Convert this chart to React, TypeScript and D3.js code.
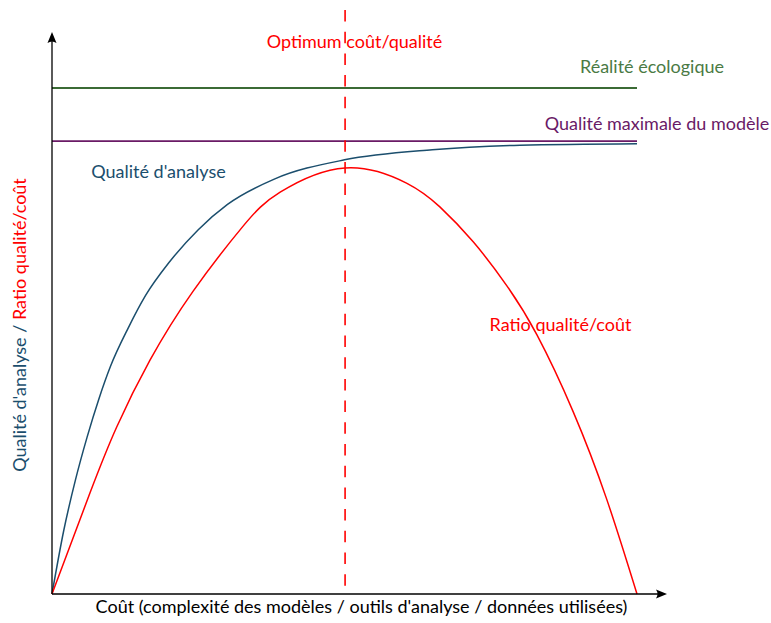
import React from "react";
import * as d3 from "d3";

// Curve readings (x: cost 0–100, y: quality 0–100)
const qualityX = [0, 2, 4, 6, 8, 10, 13, 16, 20, 25, 30, 38, 50, 65, 80, 100];
const qualityY = [0, 12.5, 22.5, 31, 38.5, 45, 52.5, 59, 65.5, 72, 77, 82, 85.8, 87.8, 88.7, 89.0];

const ratioX = [0, 6.5, 11.06, 16.75, 24.1, 32.6, 39.0, 50.1, 60.6, 66.3, 72.0, 77.7, 82.9, 89.1, 94.8, 100];
const ratioY = [0, 20.0, 33.0, 46.2, 59.8, 72.6, 79.4, 84.2, 81.2, 76.5, 69.6, 61.0, 51.2, 36.0, 18.8, 0];

const ecologicalReality = 100;
const maxModelQuality = 89.5;
const optimumX = 50.1;

const labels = {
  optimum: "Optimum coût/qualité",
  reality: "Réalité écologique",
  maxModel: "Qualité maximale du modèle",
  quality: "Qualité d'analyse",
  ratio: "Ratio qualité/coût",
  xAxis: "Coût (complexité des modèles / outils d'analyse / données utilisées)",
  yAxisA: "Qualité d'analyse / ",
  yAxisB: "Ratio qualité/coût",
};

const W = 771;
const H = 623;
const RED = "#ff0000";
const BLUE = "#1b4e6d";
const GREEN = "#3b6b35";
const GREEN_TEXT = "#4a7a44";
const PURPLE = "#6a1a66";
const FONT = "Lato, 'Open Sans', sans-serif";
const FS = 18;

export default function App() {
  const x = d3.scaleLinear().domain([0, 100]).range([52, 637]);
  const y = d3.scaleLinear().domain([0, 100]).range([594, 88]);

  const qualityLine = d3
    .line<[number, number]>()
    .x((d) => x(d[0]))
    .y((d) => y(d[1]))
    .curve(d3.curveMonotoneX);
  const ratioLine = d3
    .line<[number, number]>()
    .x((d) => x(d[0]))
    .y((d) => y(d[1]))
    .curve(d3.curveNatural);

  const qualityPts = qualityX.map((v, i) => [v, qualityY[i]] as [number, number]);
  const ratioPts = ratioX.map((v, i) => [v, ratioY[i]] as [number, number]);

  const x0 = x(0);
  const y0 = y(0);
  const xEnd = 667;
  const yEnd = 32;

  return (
    <svg
      width={W}
      height={H}
      style={{ position: "absolute", left: 0, top: 0, display: "block", background: "#fff" }}
      fontFamily={FONT}
    >
      <line x1={x(0)} x2={x(100)} y1={y(ecologicalReality)} y2={y(ecologicalReality)} stroke={GREEN} strokeWidth={1.8} />
      <line x1={x(0)} x2={x(100)} y1={y(maxModelQuality)} y2={y(maxModelQuality)} stroke={PURPLE} strokeWidth={1.8} />

      <path d={qualityLine(qualityPts) || ""} fill="none" stroke={BLUE} strokeWidth={1.5} />
      <path d={ratioLine(ratioPts) || ""} fill="none" stroke={RED} strokeWidth={1.5} />

      <line
        x1={x(optimumX)}
        x2={x(optimumX)}
        y1={10}
        y2={y0}
        stroke={RED}
        strokeWidth={1.6}
        strokeDasharray="11.5 10.2"
      />

      <line x1={x0} x2={xEnd - 4} y1={y0} y2={y0} stroke="#000" strokeWidth={1.3} />
      <line x1={x0} x2={x0} y1={y0} y2={yEnd + 4} stroke="#000" strokeWidth={1.3} />
      <path
        d={`M${xEnd},${y0} L${xEnd - 11},${y0 - 4.5} Q${xEnd - 8},${y0} ${xEnd - 11},${y0 + 4.5} Z`}
        fill="#000"
      />
      <path
        d={`M${x0},${yEnd} L${x0 - 4.5},${yEnd + 11} Q${x0},${yEnd + 8} ${x0 + 4.5},${yEnd + 11} Z`}
        fill="#000"
      />

      <text x={354.5} y={48} fill={RED} fontSize={FS} textAnchor="middle">
        {labels.optimum}
      </text>
      <text x={652} y={73} fill={GREEN_TEXT} fontSize={FS} textAnchor="middle">
        {labels.reality}
      </text>
      <text x={657} y={130} fill={PURPLE} fontSize={FS} textAnchor="middle">
        {labels.maxModel}
      </text>
      <text x={158.5} y={178} fill={BLUE} fontSize={FS} textAnchor="middle">
        {labels.quality}
      </text>
      <text x={560.5} y={331} fill={RED} fontSize={FS} textAnchor="middle">
        {labels.ratio}
      </text>
      <text x={361.5} y={613} fill="#000" fontSize={FS} textAnchor="middle">
        {labels.xAxis}
      </text>
      <text transform="translate(26,325) rotate(-90)" fontSize={FS} textAnchor="middle">
        <tspan fill={BLUE}>{labels.yAxisA}</tspan>
        <tspan fill={RED}>{labels.yAxisB}</tspan>
      </text>
    </svg>
  );
}
